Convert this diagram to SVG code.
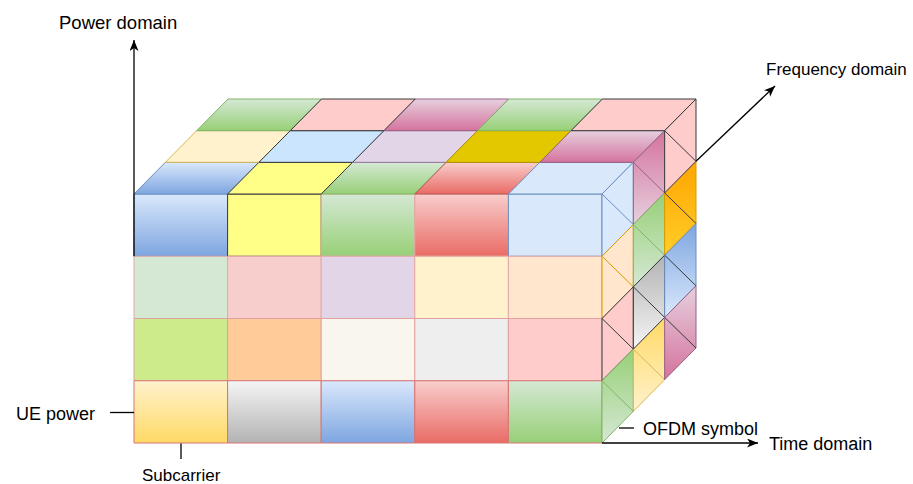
<svg xmlns="http://www.w3.org/2000/svg" width="913" height="484" viewBox="0 0 913 484">
  <style>
    text { font-family: "Liberation Sans", Arial, Helvetica, sans-serif; fill: #000; }
    .cell { stroke-width: 1; stroke-linejoin: round; }
    .axis { stroke: #000; stroke-width: 1.3; fill: none; }
    .tick { stroke: #000; stroke-width: 1.3; fill: none; }
    .diag { fill: none; stroke-width: 1; }
  </style>
  <defs>
    <!-- top-to-bottom shaded fills (light to dark) -->
    <linearGradient id="gBlue" x1="0" y1="0" x2="0" y2="1"><stop offset="0" stop-color="#dae8fc"/><stop offset="1" stop-color="#7ea6e0"/></linearGradient>
    <linearGradient id="gGreen" x1="0" y1="0" x2="0" y2="1"><stop offset="0" stop-color="#d5e8d4"/><stop offset="1" stop-color="#97d077"/></linearGradient>
    <linearGradient id="gRed" x1="0" y1="0" x2="0" y2="1"><stop offset="0" stop-color="#f8cecc"/><stop offset="1" stop-color="#ea6b66"/></linearGradient>
    <linearGradient id="gYellow" x1="0" y1="0" x2="0" y2="1"><stop offset="0" stop-color="#fff2cc"/><stop offset="1" stop-color="#ffd966"/></linearGradient>
    <linearGradient id="gGray" x1="0" y1="0" x2="0" y2="1"><stop offset="0" stop-color="#f5f5f5"/><stop offset="1" stop-color="#b3b3b3"/></linearGradient>
    <linearGradient id="gMag" x1="0" y1="0" x2="0" y2="1"><stop offset="0" stop-color="#e6d0de"/><stop offset="1" stop-color="#d5739d"/></linearGradient>
    <!-- bottom-to-top shaded fills for the side faces -->
    <linearGradient id="gGreenR" x1="0" y1="1" x2="0" y2="0"><stop offset="0" stop-color="#d5e8d4"/><stop offset="1" stop-color="#97d077"/></linearGradient>
    <linearGradient id="gBlueR" x1="0" y1="1" x2="0" y2="0"><stop offset="0" stop-color="#dae8fc"/><stop offset="1" stop-color="#7ea6e0"/></linearGradient>
    <linearGradient id="gYellowR" x1="0" y1="1" x2="0" y2="0"><stop offset="0" stop-color="#fff2cc"/><stop offset="1" stop-color="#ffd966"/></linearGradient>
    <linearGradient id="gGrayR" x1="0" y1="1" x2="0" y2="0"><stop offset="0" stop-color="#f5f5f5"/><stop offset="1" stop-color="#b3b3b3"/></linearGradient>
    <linearGradient id="gMagR" x1="0" y1="1" x2="0" y2="0"><stop offset="0" stop-color="#e6d0de"/><stop offset="1" stop-color="#d5739d"/></linearGradient>
    <linearGradient id="gOrangeR" x1="0" y1="1" x2="0" y2="0"><stop offset="0" stop-color="#ffcd28"/><stop offset="1" stop-color="#ffa500"/></linearGradient>
    <marker id="arrow" markerUnits="userSpaceOnUse" markerWidth="12" markerHeight="10" refX="11" refY="4.5" orient="auto">
      <path d="M0,0 L11,4.5 L0,9 L3,4.5 Z" fill="#000"/>
    </marker>
  </defs>

  <!-- front face, top row of cubes -->
  <g id="front-row1">
    <rect class="cell" x="134" y="194" width="93.6" height="62.25" fill="url(#gBlue)" stroke="#6c8ebf"/>
    <rect class="cell" x="227.6" y="194" width="93.6" height="62.25" fill="#ffff88" stroke="#36393d"/>
    <rect class="cell" x="321.2" y="194" width="93.6" height="62.25" fill="url(#gGreen)" stroke="#e0a9a0"/>
    <rect class="cell" x="414.8" y="194" width="93.6" height="62.25" fill="url(#gRed)" stroke="#e0a9a0"/>
    <rect class="cell" x="508.4" y="194" width="93.6" height="62.25" fill="#dae8fc" stroke="#6c8ebf"/>
  </g>

  <!-- front face, second row -->
  <g id="front-row2">
    <rect class="cell" x="134" y="256.25" width="93.6" height="62.25" fill="#d5e8d4" stroke="#e4a7a7"/>
    <rect class="cell" x="227.6" y="256.25" width="93.6" height="62.25" fill="#f8cecc" stroke="#e4a7a7"/>
    <rect class="cell" x="321.2" y="256.25" width="93.6" height="62.25" fill="#e1d5e7" stroke="#e4a7a7"/>
    <rect class="cell" x="414.8" y="256.25" width="93.6" height="62.25" fill="#fff2cc" stroke="#e4a7a7"/>
    <rect class="cell" x="508.4" y="256.25" width="93.6" height="62.25" fill="#ffe6cc" stroke="#e4a7a7"/>
  </g>

  <!-- front face, third row -->
  <g id="front-row3">
    <rect class="cell" x="134" y="318.5" width="93.6" height="62.25" fill="#cdeb8b" stroke="#e0a0a0"/>
    <rect class="cell" x="227.6" y="318.5" width="93.6" height="62.25" fill="#ffcc99" stroke="#e0a0a0"/>
    <rect class="cell" x="321.2" y="318.5" width="93.6" height="62.25" fill="#f9f7ed" stroke="#e0a0a0"/>
    <rect class="cell" x="414.8" y="318.5" width="93.6" height="62.25" fill="#eeeeee" stroke="#e0a0a0"/>
    <rect class="cell" x="508.4" y="318.5" width="93.6" height="62.25" fill="#ffcccc" stroke="#e0a0a0"/>
  </g>

  <!-- front face, bottom row (UE power) -->
  <g id="front-row4">
    <rect class="cell" x="134" y="380.75" width="93.6" height="62.25" fill="url(#gYellow)" stroke="#d87474"/>
    <rect class="cell" x="227.6" y="380.75" width="93.6" height="62.25" fill="url(#gGray)" stroke="#d87474"/>
    <rect class="cell" x="321.2" y="380.75" width="93.6" height="62.25" fill="url(#gBlue)" stroke="#d87474"/>
    <rect class="cell" x="414.8" y="380.75" width="93.6" height="62.25" fill="url(#gRed)" stroke="#d87474"/>
    <rect class="cell" x="508.4" y="380.75" width="93.6" height="62.25" fill="url(#gGreen)" stroke="#d87474"/>
  </g>

  <!-- top face, front layer -->
  <g id="top-layer0">
    <polygon class="cell" points="134,194 227.6,194 258.93,162.33 165.33,162.33" fill="url(#gBlue)" stroke="#6c8ebf"/>
    <polygon class="cell" points="321.2,194 414.8,194 446.13,162.33 352.53,162.33" fill="url(#gGreen)" stroke="#82b366"/>
    <polygon class="cell" points="414.8,194 508.4,194 539.73,162.33 446.13,162.33" fill="url(#gRed)" stroke="#b85450"/>
    <polygon class="cell" points="508.4,194 602,194 633.33,162.33 539.73,162.33" fill="#dae8fc" stroke="#6c8ebf"/>
    <polygon class="cell" points="227.6,194 321.2,194 352.53,162.33 258.93,162.33" fill="#ffff88" stroke="#36393d"/>
  </g>

  <!-- top face, middle layer -->
  <g id="top-layer1">
    <polygon class="cell" points="165.33,162.33 258.93,162.33 290.27,130.67 196.67,130.67" fill="#fff2cc" stroke="#d6b656"/>
    <polygon class="cell" points="352.53,162.33 446.13,162.33 477.47,130.67 383.87,130.67" fill="#e1d5e7" stroke="#9673a6"/>
    <polygon class="cell" points="446.13,162.33 539.73,162.33 571.07,130.67 477.47,130.67" fill="#e3c800" stroke="#b09500"/>
    <polygon class="cell" points="539.73,162.33 633.33,162.33 664.67,130.67 571.07,130.67" fill="url(#gMag)" stroke="#996185"/>
    <polygon class="cell" points="258.93,162.33 352.53,162.33 383.87,130.67 290.27,130.67" fill="#cce5ff" stroke="#36393d"/>
  </g>

  <!-- top face, back layer -->
  <g id="top-layer2">
    <polygon class="cell" points="196.67,130.67 290.27,130.67 321.6,99 228,99" fill="url(#gGreen)" stroke="#82b366"/>
    <polygon class="cell" points="383.87,130.67 477.47,130.67 508.8,99 415.2,99" fill="url(#gMag)" stroke="#996185"/>
    <polygon class="cell" points="477.47,130.67 571.07,130.67 602.4,99 508.8,99" fill="url(#gGreen)" stroke="#82b366"/>
    <polygon class="cell" points="290.27,130.67 383.87,130.67 415.2,99 321.6,99" fill="#ffcccc" stroke="#36393d"/>
    <polygon class="cell" points="571.07,130.67 664.67,130.67 696,99 602.4,99" fill="#ffcccc" stroke="#36393d"/>
  </g>

  <!-- right face, front layer (OFDM symbol column) -->
  <g id="side-col0">
    <polygon class="cell" points="602,194 633.33,162.33 633.33,224.58 602,256.25" fill="#dae8fc" stroke="#6c8ebf"/>
    <line class="diag" x1="602" y1="194" x2="633.33" y2="224.58" stroke="#6c8ebf"/>
    <polygon class="cell" points="602,256.25 633.33,224.58 633.33,286.83 602,318.5" fill="#ffe6cc" stroke="#d79b00"/>
    <line class="diag" x1="602" y1="256.25" x2="633.33" y2="286.83" stroke="#d79b00"/>
    <polygon class="cell" points="602,318.5 633.33,286.83 633.33,349.08 602,380.75" fill="#ffcccc" stroke="#36393d"/>
    <line class="diag" x1="602" y1="318.5" x2="633.33" y2="349.08" stroke="#36393d"/>
    <polygon class="cell" points="602,380.75 633.33,349.08 633.33,411.33 602,443" fill="url(#gGreenR)" stroke="#82b366"/>
    <line class="diag" x1="602" y1="380.75" x2="633.33" y2="411.33" stroke="#82b366"/>
  </g>

  <!-- right face, middle layer -->
  <g id="side-col1">
    <polygon class="cell" points="633.33,162.33 664.67,130.67 664.67,192.92 633.33,224.58" fill="url(#gMagR)" stroke="#996185"/>
    <line class="diag" x1="633.33" y1="162.33" x2="664.67" y2="192.92" stroke="#996185"/>
    <polygon class="cell" points="633.33,224.58 664.67,192.92 664.67,255.17 633.33,286.83" fill="url(#gGreenR)" stroke="#82b366"/>
    <line class="diag" x1="633.33" y1="224.58" x2="664.67" y2="255.17" stroke="#82b366"/>
    <polygon class="cell" points="633.33,349.08 664.67,317.42 664.67,379.67 633.33,411.33" fill="url(#gYellowR)" stroke="#d6b656"/>
    <line class="diag" x1="633.33" y1="349.08" x2="664.67" y2="379.67" stroke="#d6b656"/>
    <polygon class="cell" points="633.33,286.83 664.67,255.17 664.67,317.42 633.33,349.08" fill="url(#gGrayR)" stroke="#36393d"/>
    <line class="diag" x1="633.33" y1="286.83" x2="664.67" y2="317.42" stroke="#36393d"/>
  </g>

  <!-- right face, back layer -->
  <g id="side-col2">
    <polygon class="cell" points="664.67,192.92 696,161.25 696,223.5 664.67,255.17" fill="url(#gOrangeR)" stroke="#d79b00"/>
    <line class="diag" x1="664.67" y1="192.92" x2="696" y2="223.5" stroke="#36393d"/>
    <polygon class="cell" points="664.67,255.17 696,223.5 696,285.75 664.67,317.42" fill="url(#gBlueR)" stroke="#6c8ebf"/>
    <line class="diag" x1="664.67" y1="255.17" x2="696" y2="285.75" stroke="#36393d"/>
    <polygon class="cell" points="664.67,317.42 696,285.75 696,348 664.67,379.67" fill="url(#gMag)" stroke="#996185"/>
    <line class="diag" x1="664.67" y1="317.42" x2="696" y2="348" stroke="#36393d"/>
    <polygon class="cell" points="664.67,130.67 696,99 696,161.25 664.67,192.92" fill="#ffcccc" stroke="#36393d"/>
    <line class="diag" x1="664.67" y1="130.67" x2="696" y2="161.25" stroke="#36393d"/>
  </g>

  <!-- axes and label ticks -->
  <g id="connectors">
    <line class="axis" x1="134" y1="256.25" x2="134" y2="40" marker-end="url(#arrow)"/>
    <line class="axis" x1="602" y1="443" x2="758" y2="443" marker-end="url(#arrow)"/>
    <line class="axis" x1="696" y1="161.25" x2="775" y2="86" stroke="#333" marker-end="url(#arrow)"/>
    <line class="tick" x1="110" y1="412.5" x2="134" y2="412.5"/>
    <line class="tick" x1="181" y1="443.5" x2="181" y2="459"/>
    <line class="tick" x1="619" y1="428" x2="634" y2="428"/>
  </g>

  <!-- labels -->
  <g id="labels">
    <text x="59" y="29" font-size="18.5">Power domain</text>
    <text x="766" y="75" font-size="17">Frequency domain</text>
    <text x="16" y="419.5" font-size="18">UE power</text>
    <text x="142" y="481" font-size="17">Subcarrier</text>
    <text x="643" y="435" font-size="18">OFDM symbol</text>
    <text x="769" y="450" font-size="18">Time domain</text>
  </g>
</svg>
